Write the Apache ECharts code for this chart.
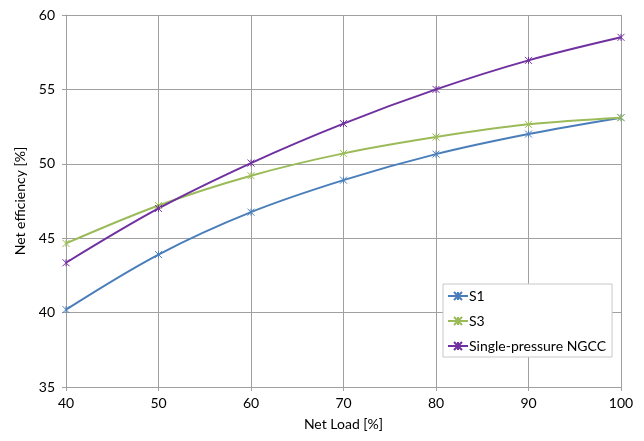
<!DOCTYPE html>
<html><head><meta charset="utf-8">
<script src="https://cdn.jsdelivr.net/npm/echarts@6/dist/echarts.min.js"></script>
<style>html,body{margin:0;padding:0;background:#fff}#c{width:644px;height:441px}</style>
</head><body><div id="c"></div>
<script>
const loads = [40, 50, 60, 70, 80, 90, 100];
const s1 = [40.2, 43.9, 46.75, 48.9, 50.65, 52.0, 53.1];
const s3 = [44.65, 47.2, 49.2, 50.7, 51.8, 52.65, 53.1];
const ngcc = [43.35, 47.0, 50.05, 52.7, 55.0, 56.95, 58.5];
const seriesNames = ['S1', 'S3', 'Single-pressure NGCC'];
const colors = ['#4a7ebb', '#9bbb59', '#7030a0'];
const font = 'Lato, "Open Sans", sans-serif';
const star = 'path://M0,0L10,10M10,0L0,10M5,0L5,10';
function mk(name, vals, c) {
  return {
    name: name, type: 'line', smooth: 0.35,
    data: loads.map((x, i) => [x, vals[i]]),
    symbol: star, symbolSize: 7,
    lineStyle: {color: c, width: 2},
    itemStyle: {color: c, borderColor: c, borderWidth: 1},
    emphasis: {disabled: true}
  };
}
const chart = echarts.init(document.getElementById('c'));
chart.setOption({
  animation: false,
  color: colors,
  grid: {left: 66, right: 23, top: 15, bottom: 54},
  legend: {
    orient: 'vertical', left: 443, top: 284,
    padding: [4, 6, 3, 4], itemGap: 9, itemWidth: 20, itemHeight: 10,
    borderColor: '#c8c8c8', borderWidth: 1, backgroundColor: '#fff',
    textStyle: {fontFamily: font, fontSize: 14, lineHeight: 16, color: '#000', padding: [0,0,0,-4]},
    data: seriesNames
  },
  xAxis: {
    type: 'value', min: 40, max: 100, interval: 10,
    name: 'Net Load [%]', nameLocation: 'middle', nameGap: 30,
    nameTextStyle: {fontFamily: font, fontSize: 14, color: '#000'},
    axisLine: {show: true, lineStyle: {color: '#a0a0a0'}},
    axisTick: {show: true, length: 4, lineStyle: {color: '#a0a0a0'}},
    axisLabel: {fontFamily: font, fontSize: 14, color: '#000', margin: 9},
    splitLine: {show: true, lineStyle: {color: '#a0a0a0', width: 1}}
  },
  yAxis: {
    type: 'value', min: 35, max: 60, interval: 5,
    name: 'Net efficiency [%]', nameLocation: 'middle', nameGap: 39,
    nameTextStyle: {fontFamily: font, fontSize: 14, color: '#000'},
    axisLine: {show: true, lineStyle: {color: '#a0a0a0'}},
    axisTick: {show: true, length: 4, lineStyle: {color: '#a0a0a0'}},
    axisLabel: {fontFamily: font, fontSize: 14, color: '#000', margin: 11},
    splitLine: {show: true, lineStyle: {color: '#a0a0a0', width: 1}}
  },
  series: [mk(seriesNames[0], s1, colors[0]), mk(seriesNames[1], s3, colors[1]), mk(seriesNames[2], ngcc, colors[2])]
});
</script></body></html>
